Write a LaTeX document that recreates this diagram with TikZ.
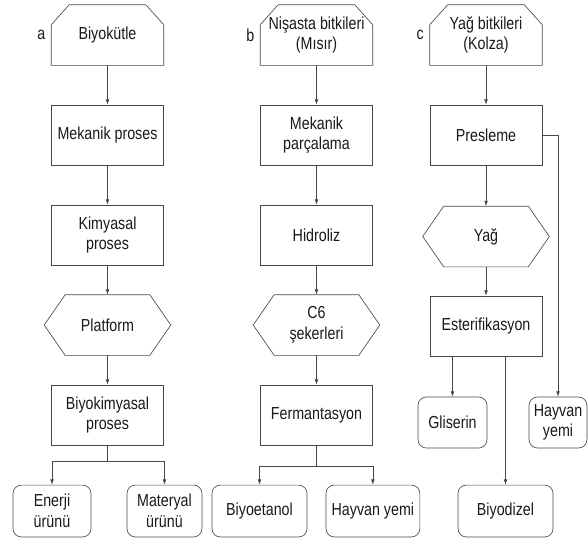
\documentclass[tikz,border=0pt]{standalone}
\usepackage{fontspec}
\setmainfont{Liberation Sans}[FakeStretch=0.82]
\usetikzlibrary{arrows.meta,calc,positioning}
\definecolor{flowline}{RGB}{70,70,70}

\begin{document}
\begin{tikzpicture}[
    font=\fontsize{16.5}{19.5}\selectfont,
    proc/.style={draw=flowline, line width=0.6pt, minimum width=3.73cm, minimum height=2cm, align=center, inner sep=2pt, text=black!90},
    feed/.style={proc, draw=none},
    inter/.style={proc, draw=none, minimum width=4.2cm},
    prod/.style={proc, rounded corners=8pt, minimum height=1.73cm},
    tag/.style={inner sep=2pt, text=black!90},
    edge/.style={draw=flowline, line width=0.6pt},
    flow/.style={edge, -{Latex[length=5pt,width=3.5pt]}}
  ]
  \useasboundingbox (0,0) rectangle (19.6,17.967);

  % a: biyokutle
  \node[feed] (bio) at (3.583,16.8) {Biyokütle};
  \node[tag, left=0.12cm of bio] (taga) {a};
  \node[proc] (mekA) at (3.583,13.467) {Mekanik proses};
  \node[proc] (kim) at (3.583,10.133) {Kimyasal\\proses};
  \node[inter] (plat) at (3.583,7.133) {Platform};
  \node[proc] (bkim) at (3.583,4.133) {Biyokimyasal\\proses};
  \node[prod, minimum width=2.6cm] (enerji) at (1.733,0.933) {Enerji\\ürünü};
  \node[prod, minimum width=2.5cm] (mater) at (5.483,0.933) {Materyal\\ürünü};

  % b: nisasta
  \node[feed] (nis) at (10.55,16.8) {Nişasta bitkileri\\(Mısır)};
  \node[tag, left=0.12cm of nis] (tagb) {b};
  \node[proc] (mekB) at (10.55,13.467) {Mekanik\\parçalama};
  \node[proc] (hid) at (10.55,10.133) {Hidroliz};
  \node[inter] (c6) at (10.55,7.133) {C6\\şekerleri};
  \node[proc] (ferm) at (10.55,4.133) {Fermantasyon};
  \node[prod, minimum width=3.17cm] (etanol) at (8.65,0.933) {Biyoetanol};
  \node[prod, minimum width=3.13cm] (yemB) at (12.43,0.933) {Hayvan yemi};

  % c: yag bitkileri
  \node[feed] (yagb) at (16.2,16.8) {Yağ bitkileri\\(Kolza)};
  \node[tag, left=0.12cm of yagb] (tagc) {c};
  \node[proc] (pres) at (16.2,13.467) {Presleme};
  \node[inter] (yag) at (16.2,10.083) {Yağ};
  \node[proc] (ester) at (16.2,7.1) {Esterifikasyon};
  \node[prod, minimum width=2.3cm, minimum height=1.7cm] (glis) at (15.083,3.883) {Gliserin};
  \node[prod, minimum width=3.17cm] (dizel) at (16.85,0.933) {Biyodizel};
  \node[prod, minimum width=1.93cm, minimum height=1.7cm] (yemC) at (18.6,3.883) {Hayvan\\yemi};

  % outlines: raw material (cut top corners) and intermediate (hexagon)
  \foreach \n in {bio,nis,yagb}
    \draw[edge] (\n.south west) -- ([yshift=-0.67cm]\n.north west) -- ([xshift=0.6cm]\n.north west)
      -- ([xshift=-0.6cm]\n.north east) -- ([yshift=-0.67cm]\n.north east) -- (\n.south east) -- cycle;
  \foreach \n in {plat,c6,yag}
    \draw[edge] (\n.west) -- ([xshift=0.7cm]\n.north west) -- ([xshift=-0.7cm]\n.north east)
      -- (\n.east) -- ([xshift=-0.7cm]\n.south east) -- ([xshift=0.7cm]\n.south west) -- cycle;

  % arrows a
  \draw[flow] (bio) -- (mekA);
  \draw[flow] (mekA) -- (kim);
  \draw[flow] (kim) -- (plat);
  \draw[flow] (plat) -- (bkim);
  \draw[edge] (bkim.south) -- ++(0,-0.53) coordinate (ja);
  \draw[flow] (ja) -| (enerji.north);
  \draw[flow] (ja) -| (mater.north);

  % arrows b
  \draw[flow] (nis) -- (mekB);
  \draw[flow] (mekB) -- (hid);
  \draw[flow] (hid) -- (c6);
  \draw[flow] (c6) -- (ferm);
  \draw[edge] (ferm.south) -- ++(0,-0.7) coordinate (jb);
  \draw[flow] (jb) -| (etanol.north);
  \draw[flow] (jb) -| (yemB.north);

  % arrows c
  \draw[flow] (yagb) -- (pres);
  \draw[flow] (pres) -- (yag);
  \draw[flow] (yag) -- (ester);
  \draw[flow] (ester.south -| glis.north) -- (glis.north);
  \draw[flow] (ester.south -| dizel.north) -- (dizel.north);
  \draw[flow] (pres.east) -| (yemC.north);
\end{tikzpicture}
\end{document}
